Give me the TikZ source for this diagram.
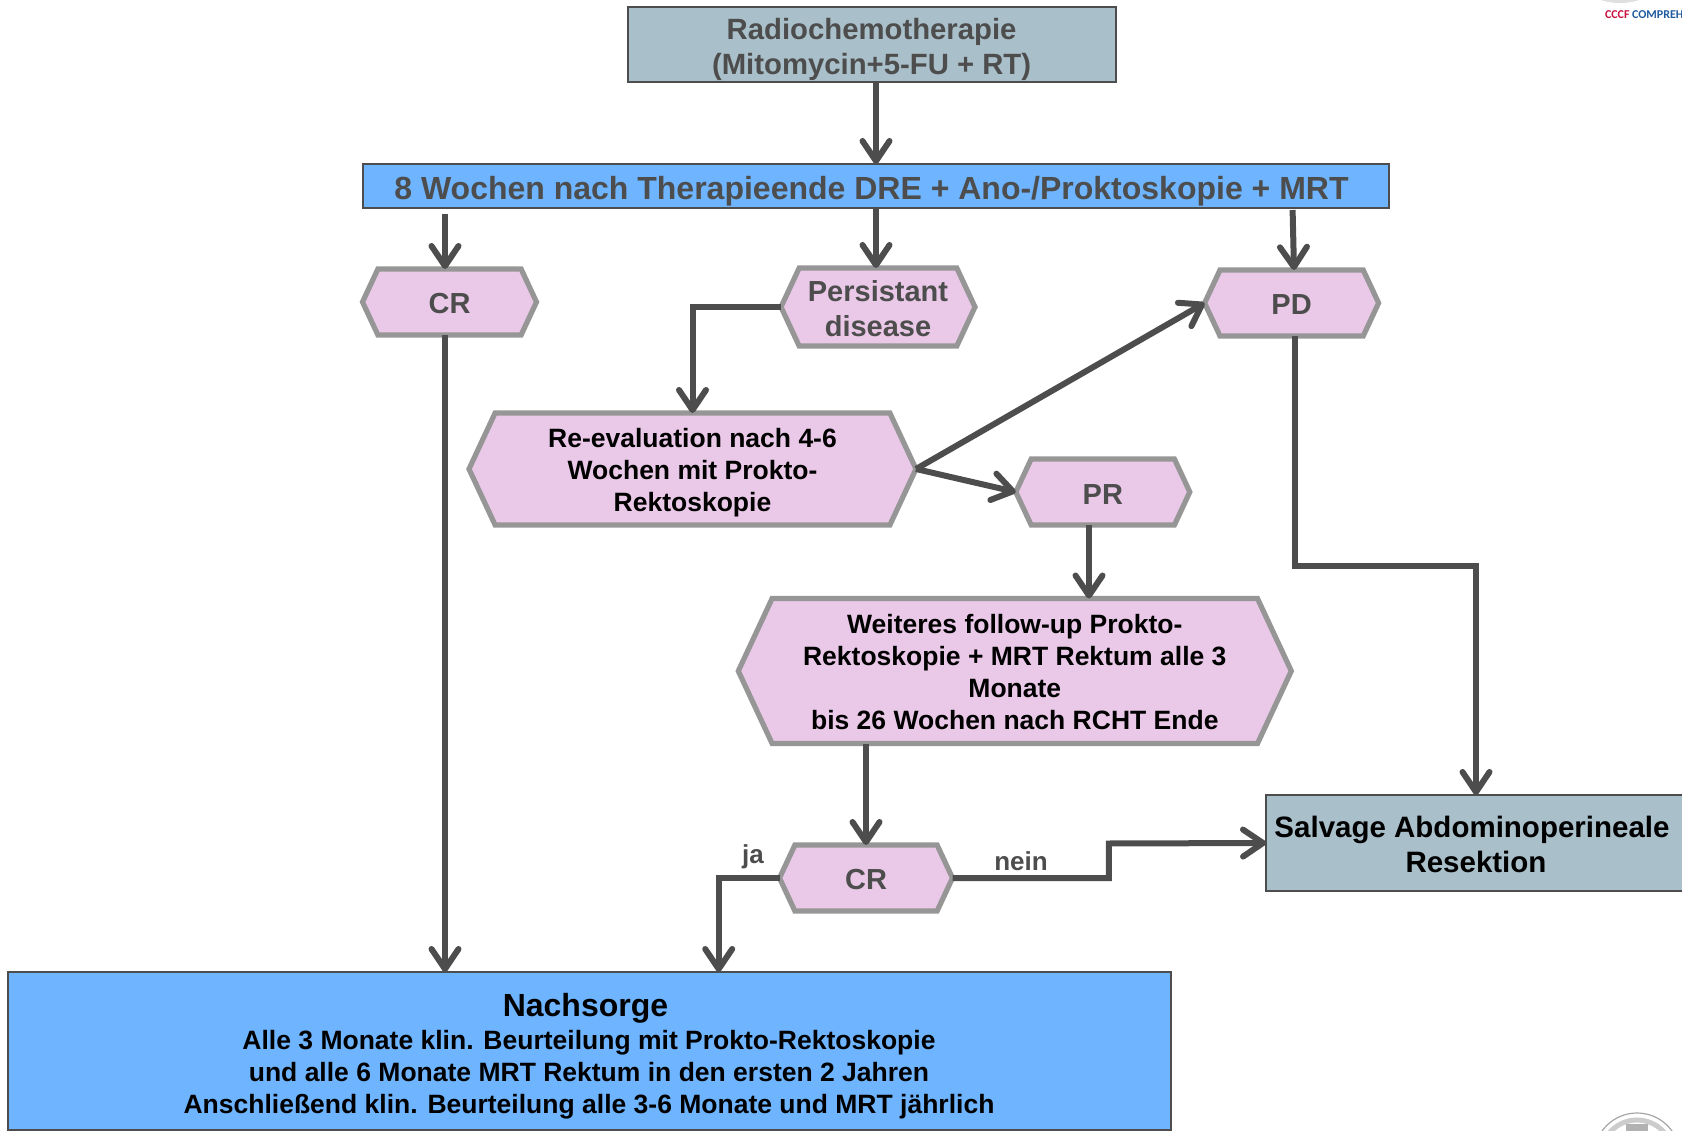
\documentclass[tikz,border=0pt]{standalone}
\usepackage{fontspec}
\setmainfont{Liberation Sans}
\newfontfamily\logofont{Carlito}
\usetikzlibrary{shapes.symbols,arrows.meta,calc}
\definecolor{arrowgray}{HTML}{4D4D4D}
\definecolor{hexgray}{HTML}{969696}
\definecolor{hexpink}{HTML}{EAC9E8}
\definecolor{boxblue}{HTML}{6EB4FF}
\definecolor{boxslate}{HTML}{A9BFC9}
\definecolor{logored}{HTML}{C8103E}
\definecolor{logoblue}{HTML}{1F5A9E}
\newcommand{\toppad}[1]{\rule{0pt}{#1pt}}
\begin{document}
\begin{tikzpicture}[x=1pt,y=-1pt]
\tikzset{every node/.style={align=center,inner sep=0pt,outer sep=0pt}}
\tikzset{rectbox/.style={draw=arrowgray,line width=2pt,rectangle}}
\tikzset{hexbox/.style={shape=signal,signal to=west and east,signal pointer angle=130,fill=hexpink,draw=hexgray,line width=5.2pt}}
\tikzset{graytext/.style={text=arrowgray,font=\bfseries\fontsize{29}{35}\selectfont}}
\tikzset{blacktext/.style={text=black,font=\bfseries\fontsize{26.5}{32}\selectfont}}
\tikzset{flow/.style={draw=arrowgray,line width=6pt,-{Straight Barb[length=20pt,width=27pt,round]}}}
\useasboundingbox (0,0) rectangle (1682,1131);
% boxes
\node[rectbox,fill=boxslate,minimum width=488pt,minimum height=75pt,text=arrowgray,font=\bfseries\fontsize{29.3}{35}\selectfont] (radio) at (871.6,45) {\toppad{31}Radiochemotherapie\\(Mitomycin+5-FU + RT)};
\node[rectbox,fill=boxblue,minimum width=1026pt,minimum height=44pt,text=arrowgray,font=\bfseries\fontsize{32}{36}\selectfont] (wochen) at (876,186) {\toppad{34}8 Wochen nach Therapieende DRE + Ano-/Proktoskopie + MRT\hspace*{9pt}};
\node[rectbox,fill=boxslate,minimum width=420pt,minimum height=96pt,font=\bfseries\fontsize{29.5}{35.4}\selectfont] (salvage) at (1476,843) {\toppad{24}Salvage Abdominoperineale\hspace*{8pt}\\Resektion};
\node[rectbox,fill=boxblue,minimum width=1163pt,minimum height=158pt,font=\bfseries\fontsize{26.5}{32}\selectfont] (nachsorge) at (589,1051) {\toppad{33}{\fontsize{32}{35}\selectfont Nachsorge}\hspace*{7pt}\\[1pt]Alle 3 Monate klin. Beurteilung mit Prokto-Rektoskopie\\und alle 6 Monate MRT Rektum in den ersten 2 Jahren\\Anschließend klin. Beurteilung alle 3-6 Monate und MRT jährlich};
% hexagons
\node[hexbox,graytext,minimum width=174pt,minimum height=66pt] (crleft) at (449.5,302) {\toppad{24}CR};
\node[hexbox,graytext,minimum width=194pt,minimum height=78pt] (persist) at (878,307) {\toppad{24}Persistant\\disease};
\node[hexbox,graytext,minimum width=174pt,minimum height=66pt] (pd) at (1291.6,303) {\toppad{24}PD};
\node[hexbox,blacktext,minimum width=447pt,minimum height=112pt] (reeval) at (692.5,469) {\toppad{26}Re-evaluation nach 4-6\\Wochen mit Prokto-\\Rektoskopie};
\node[hexbox,graytext,minimum width=174pt,minimum height=66pt] (pr) at (1102.8,492) {\toppad{24}PR};
\node[hexbox,blacktext,minimum width=553pt,minimum height=145pt] (weiteres) at (1014.8,671) {\toppad{21.5}Weiteres follow-up Prokto-\\Rektoskopie + MRT Rektum alle 3\\Monate\\bis 26 Wochen nach RCHT Ende};
\node[hexbox,graytext,minimum width=173pt,minimum height=66pt] (crlow) at (866,878) {\toppad{24}CR};
% labels
\node[text=arrowgray,font=\bfseries\fontsize{26}{30}\selectfont] (ja) at (753,857) {ja};
\node[text=arrowgray,font=\bfseries\fontsize{26}{30}\selectfont] (nein) at (1021,861) {nein};
% logos
\fill[gray!25] (1620,-10) ellipse (30pt and 13pt);
\node[anchor=west,text=logored,font=\logofont\bfseries\fontsize{12}{13}\selectfont] (cccf) at (1605,15) {CCCF};
\node[anchor=west,text=logoblue,font=\logofont\bfseries\fontsize{12}{13}\selectfont] (compreh) at (1632,15) {COMPREH};
\draw[gray!70,line width=1.2pt] (1637,1156) circle (43pt);
\draw[gray!40,line width=5pt] (1637,1156) circle (36pt);
\fill[gray!60] (1626,1124) rectangle (1648,1131);
% connectors
\coordinate (crstart) at (445,214);
\coordinate (pdstart) at (1292.6,210);
\draw[flow] (radio.south -| wochen.north) -- (wochen.north);
\draw[flow] (crstart) -- (crstart |- crleft.north);
\draw[flow] (wochen.south) -- (wochen.south |- persist.north);
\draw[flow] (pdstart) -- ([xshift=2.4pt]pd.north);
\draw[flow] (crstart |- crleft.south) -- (crstart |- nachsorge.north);
\draw[flow] (persist.west) -| (reeval.north);
\draw[flow] (reeval.east) -- (pd.west);
\draw[flow] (reeval.east) -- (pr.west);
\draw[flow] ([xshift=-13.8pt]pr.south) -- ([xshift=-13.8pt]pr.south |- weiteres.north);
\draw[flow] ([xshift=3.1pt]pd.south) |- ($(pd.south)!0.5!(salvage.north)+(0,0)$) -| (salvage.north);
\draw[flow] (crlow.north |- weiteres.south) -- (crlow.north);
\draw[flow] (crlow.west) -| (718.7,972);
\draw[flow] (crlow.east) -- ++(156.4,0) -- ++(0,-34.5) -- (salvage.west);
\end{tikzpicture}
\end{document}
